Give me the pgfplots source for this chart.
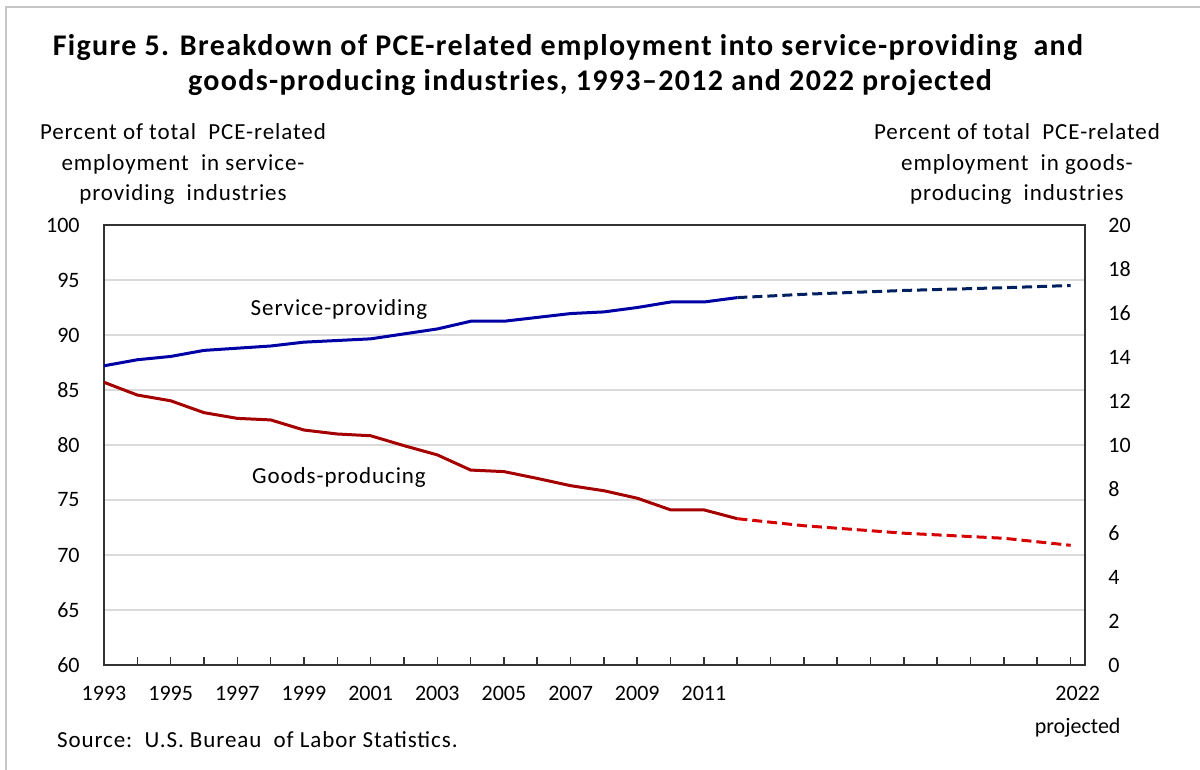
\documentclass[border=0pt]{standalone}
\usepackage{pgfplots}
\pgfplotsset{compat=1.18}
\usepackage{fontspec}
\setmainfont{Carlito}
\definecolor{servblue}{RGB}{0,0,165}
\definecolor{servnavy}{RGB}{0,32,96}
\definecolor{goodred}{RGB}{165,0,0}
\definecolor{goodred2}{RGB}{215,0,0}
\definecolor{gridgray}{RGB}{218,218,218}
\definecolor{axgray}{RGB}{50,50,50}
\newcommand\lblfont{\fontsize{11.5}{14}\selectfont\addfontfeature{LetterSpace=4}}
\newcommand\ttlfont{\fontsize{15}{18}\selectfont\bfseries\addfontfeature{LetterSpace=4.5}}
\begin{document}
\begin{tikzpicture}
\useasboundingbox (0,0) rectangle (600pt,385pt);
\draw[gray!45, line width=0.8pt] (3pt,0) -- (3pt,381.5pt) -- (600pt,381.5pt);
% title
\node[anchor=base, font=\ttlfont] at (284pt,357pt) {Figure 5. Breakdown of PCE-related employment into service-providing\ \ and};
\node[anchor=base, font=\ttlfont] at (295pt,339.5pt) {goods-producing industries, 1993--2012 and 2022 projected};
% axis titles
\node[anchor=base, font=\lblfont] at (91.5pt,315pt) {Percent of total\ \ PCE-related};
\node[anchor=base, font=\lblfont] at (91.5pt,299.5pt) {employment\ \ in service-};
\node[anchor=base, font=\lblfont] at (91.5pt,284.5pt) {providing\ \ industries};
\node[anchor=base, font=\lblfont] at (508.5pt,315pt) {Percent of total\ \ PCE-related};
\node[anchor=base, font=\lblfont] at (508.5pt,299.5pt) {employment\ \ in goods-};
\node[anchor=base, font=\lblfont] at (508.5pt,284.5pt) {producing\ \ industries};
\node[anchor=base west, font=\lblfont] at (25pt,11pt) {Source:\ \ U.S. Bureau\ \ of Labor Statistics.};

\begin{axis}[
  scale only axis, width=490.5pt, height=220pt,
  at={(52pt,52.5pt)}, anchor=south west,
  xmin=1993, xmax=2022.43, ymin=60, ymax=100,
  ytick={60,65,...,100},
  ymajorgrids, grid style={gridgray, line width=0.9pt},
  axis line style={axgray, line width=1pt},
  xtick={1993,...,2021},
  xticklabels={1993,,1995,,1997,,1999,,2001,,2003,,2005,,2007,,2009,,2011,,,,,,,,,},
  extra x ticks={2022},
  extra x tick labels={{2022\\projected}},
  extra x tick style={xticklabel style={xshift=3.5pt}, grid=none},
  xtick pos=bottom, tick align=inside,
  xtick style={axgray, line width=0.8pt},
  major tick length=4pt,
  ytick style={draw=none},
  ytick pos=left,
  tick label style={font=\fontsize{11}{16.5}\selectfont},
  xticklabel style={align=center, anchor=north, yshift=-10.5pt, inner sep=0pt},
  yticklabel style={anchor=east, inner sep=0pt, xshift=-12pt},
  /pgf/number format/assume math mode=true,
  /pgf/number format/1000 sep={},
  clip=false,
]
\addplot[servblue, line width=1.5pt] coordinates {
(1993,87.2)(1994,87.75)(1995,88.05)(1996,88.6)(1997,88.8)(1998,89.0)(1999,89.35)(2000,89.5)(2001,89.65)(2002,90.1)(2003,90.55)(2004,91.25)(2005,91.25)(2006,91.6)(2007,91.95)(2008,92.1)(2009,92.5)(2010,93.0)(2011,93.0)(2012,93.4)};
\addplot[servnavy, line width=1.5pt, dash pattern=on 5pt off 2.5pt] coordinates {
(2012,93.4)(2014,93.7)(2017,94.05)(2020,94.3)(2022,94.5)};
\node[font=\lblfont] at (axis cs:2000.05,92.35) {Service-providing};
\node[font=\lblfont] at (axis cs:2000.05,77.03) {Goods-producing};
\end{axis}

\begin{axis}[
  scale only axis, width=490.5pt, height=220pt,
  at={(52pt,52.5pt)}, anchor=south west,
  xmin=1993, xmax=2022.43, ymin=0, ymax=20,
  ytick={0,2,...,20},
  axis x line=none,
  axis y line*=right,
  axis line style={axgray, line width=1pt},
  ytick style={draw=none},
  tick label style={font=\fontsize{11}{12}\selectfont},
  yticklabel style={anchor=west, inner sep=0pt, xshift=11.5pt},
  /pgf/number format/assume math mode=true,
]
\addplot[goodred, line width=1.5pt] coordinates {
(1993,12.85)(1994,12.27)(1995,12.01)(1996,11.47)(1997,11.21)(1998,11.14)(1999,10.68)(2000,10.5)(2001,10.42)(2002,9.97)(2003,9.55)(2004,8.86)(2005,8.79)(2006,8.48)(2007,8.15)(2008,7.92)(2009,7.58)(2010,7.05)(2011,7.05)(2012,6.65)};
\addplot[goodred2, line width=1.5pt, dash pattern=on 5pt off 2.5pt] coordinates {
(2012,6.65)(2014,6.33)(2017,5.99)(2020,5.76)(2022,5.44)};
\end{axis}
\end{tikzpicture}
\end{document}
